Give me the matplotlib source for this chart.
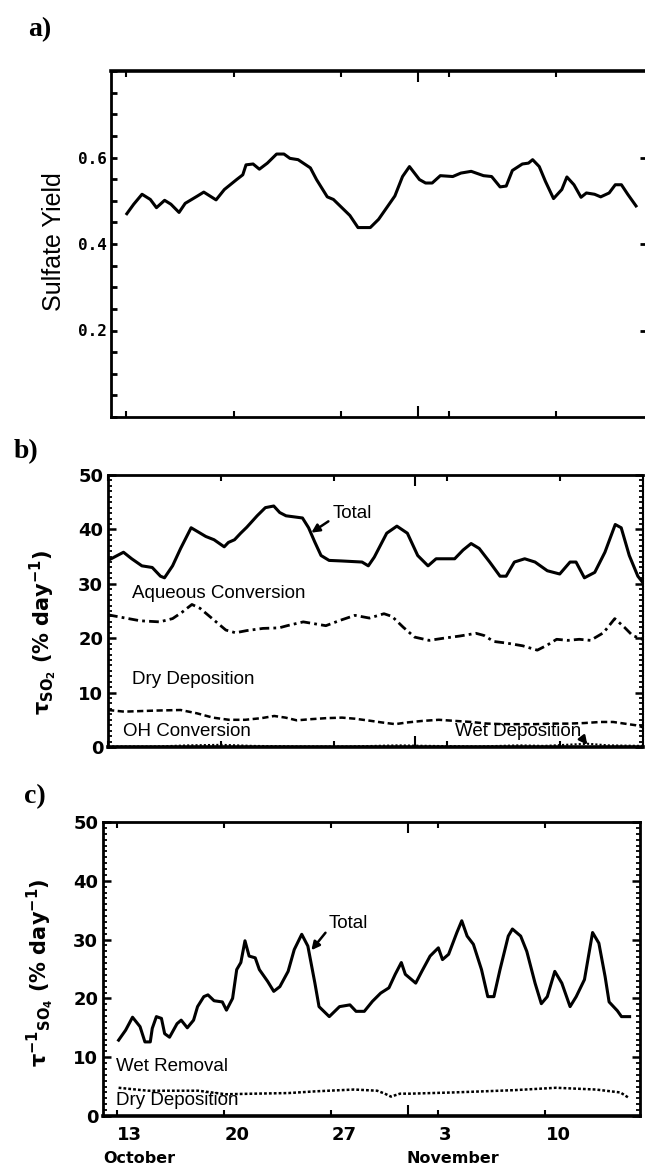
import numpy as np
import matplotlib
matplotlib.use("Agg")
import matplotlib.pyplot as plt
from matplotlib.ticker import MultipleLocator, FixedLocator

# ---- data (day of October; 32 = Nov 1) ----
days_a = [13.05, 13.5, 14.04, 14.58, 14.98, 15.51, 15.92, 16.45, 16.85, 17.65,
          18.06, 18.86, 19.4, 20.2, 20.6, 20.81, 21.27, 21.68, 22.2, 22.8,
          23.28, 23.67, 24.2, 25.0, 25.4, 26.1, 26.5, 27.57, 28.1, 28.9,
          29.44, 30.5, 31.0, 31.45, 32.1, 32.5, 32.93, 33.46, 34.27, 34.8,
          35.47, 36.27, 36.8, 37.35, 37.75, 38.15, 38.8, 39.2, 39.47, 39.9,
          40.3, 40.83, 41.37, 41.7, 42.16, 42.62, 42.97, 43.5, 43.9, 44.45,
          44.85, 45.25, 45.66, 46.2]
yield_a = [0.470, 0.492, 0.515, 0.503, 0.484, 0.501, 0.492, 0.473, 0.494, 0.511,
           0.520, 0.502, 0.526, 0.549, 0.560, 0.583, 0.585, 0.573, 0.587, 0.608,
           0.608, 0.598, 0.595, 0.576, 0.549, 0.509, 0.503, 0.466, 0.438, 0.438,
           0.457, 0.511, 0.556, 0.579, 0.549, 0.541, 0.541, 0.558, 0.556, 0.564,
           0.568, 0.558, 0.556, 0.532, 0.534, 0.570, 0.585, 0.587, 0.595, 0.579,
           0.545, 0.505, 0.526, 0.555, 0.537, 0.508, 0.518, 0.515, 0.509, 0.518,
           0.537, 0.537, 0.515, 0.488]

days_b_total = [13.0, 13.96, 14.47, 15.1, 15.74, 16.25, 16.5, 17.0, 17.5, 18.15,
                18.55, 19.06, 19.57, 20.2, 20.46, 20.84, 21.22, 21.6, 22.24, 22.75,
                23.27, 23.64, 24.03, 25.05, 25.43, 25.81, 26.2, 26.7, 27.47, 28.74,
                29.13, 29.5, 30.27, 30.9, 31.55, 32.19, 32.83, 33.33, 33.97, 34.48,
                35.0, 35.5, 36.0, 36.65, 37.29, 37.67, 38.18, 38.82, 39.46, 40.22,
                40.99, 41.63, 42.0, 42.52, 43.16, 43.79, 44.43, 44.8, 45.3, 45.83,
                46.2]
so2_total = [34.3, 35.8, 34.6, 33.3, 33.0, 31.4, 31.1, 33.3, 36.5, 40.3,
             39.6, 38.7, 38.1, 36.8, 37.6, 38.1, 39.3, 40.4, 42.5, 44.0,
             44.3, 43.1, 42.5, 42.1, 40.3, 37.7, 35.2, 34.3, 34.2, 34.0,
             33.3, 34.9, 39.3, 40.6, 39.3, 35.2, 33.3, 34.6, 34.6, 34.6,
             36.2, 37.4, 36.5, 34.0, 31.4, 31.4, 34.0, 34.6, 34.0, 32.4,
             31.8, 34.0, 34.0, 31.1, 32.1, 35.8, 40.9, 40.3, 35.2, 31.4,
             30.0]

days_b_aq = [13.0, 13.9, 15.0, 16.2, 17.0, 17.6, 18.2, 18.7, 19.5, 20.3,
             20.9, 21.6, 22.6, 23.6, 24.1, 25.1, 25.9, 26.5, 27.4, 28.3,
             29.2, 30.1, 30.6, 31.3, 32.0, 32.9, 33.8, 34.8, 35.8, 36.3,
             36.9, 37.7, 38.7, 39.6, 40.2, 40.8, 41.5, 42.2, 42.9, 43.7,
             44.4, 45.0, 45.5, 46.2]
so2_aqueous = [24.3, 23.8, 23.2, 23.0, 23.6, 24.8, 26.2, 25.5, 23.5, 21.5,
               21.0, 21.4, 21.8, 21.9, 22.3, 23.0, 22.6, 22.3, 23.3, 24.2,
               23.7, 24.5, 24.0, 22.0, 20.2, 19.6, 20.0, 20.4, 20.9, 20.5,
               19.4, 19.1, 18.6, 17.8, 18.7, 19.8, 19.6, 19.8, 19.6, 21.0,
               23.6, 22.0, 20.5, 19.7]

days_b_dry = [13.0, 14.0, 15.0, 16.0, 17.5, 18.5, 19.5, 20.5, 21.5, 22.5,
              23.3, 24.0, 24.7, 25.5, 26.5, 27.5, 28.3, 29.3, 30.0, 30.8,
              31.5, 32.5, 33.5, 34.5, 35.5, 36.5, 37.5, 38.5, 39.5, 40.5,
              41.5, 42.5, 43.5, 44.3, 45.0, 45.7, 46.2]
so2_dry = [6.8, 6.5, 6.6, 6.7, 6.8, 6.2, 5.4, 5.0, 5.0, 5.3,
           5.7, 5.4, 4.9, 5.1, 5.3, 5.4, 5.2, 4.8, 4.5, 4.2,
           4.5, 4.8, 5.0, 4.8, 4.6, 4.3, 4.2, 4.2, 4.2, 4.3,
           4.3, 4.4, 4.6, 4.6, 4.3, 4.0, 3.6]

days_b_wet = [13.0, 16.0, 18.0, 20.0, 22.0, 25.0, 28.0, 31.0, 33.0, 36.0,
              38.5, 40.0, 42.7, 44.0, 46.2]
so2_wet = [0.1, 0.1, 0.3, 0.4, 0.2, 0.1, 0.1, 0.3, 0.2, 0.1,
           0.3, 0.2, 0.6, 0.3, 0.2]

days_c_total = [13.1, 13.56, 14.01, 14.5, 14.82, 15.17, 15.3, 15.57, 15.9, 16.11,
                16.43, 16.92, 17.19, 17.59, 18.0, 18.26, 18.67, 18.94, 19.34, 19.88,
                20.15, 20.55, 20.82, 21.09, 21.36, 21.63, 22.03, 22.3, 22.84, 23.24,
                23.64, 24.18, 24.58, 25.07, 25.47, 25.93, 26.2, 26.87, 27.54, 28.22,
                28.62, 29.16, 29.69, 30.23, 30.77, 31.18, 31.58, 31.84, 32.52, 32.92,
                33.46, 34.0, 34.27, 34.67, 35.21, 35.53, 35.88, 36.29, 36.82, 37.23,
                37.63, 38.03, 38.57, 38.84, 39.38, 39.78, 40.32, 40.73, 41.12, 41.61,
                42.07, 42.61, 43.01, 43.55, 44.08, 44.49, 44.9, 45.16, 45.7, 45.97,
                46.5]
so4_total = [12.9, 14.6, 16.8, 15.2, 12.6, 12.6, 14.9, 16.9, 16.6, 14.0,
             13.4, 15.7, 16.3, 15.0, 16.3, 18.6, 20.3, 20.6, 19.6, 19.4,
             18.0, 20.0, 24.9, 26.1, 29.8, 27.2, 26.9, 24.9, 22.9, 21.2,
             22.0, 24.6, 28.3, 30.9, 28.9, 22.6, 18.6, 16.9, 18.6, 18.9,
             17.8, 17.8, 19.5, 20.9, 21.8, 24.1, 26.1, 24.1, 22.6, 24.6,
             27.2, 28.6, 26.6, 27.5, 31.2, 33.2, 30.6, 29.2, 24.9, 20.3,
             20.3, 24.9, 30.6, 31.8, 30.6, 28.0, 22.6, 19.1, 20.3, 24.6,
             22.6, 18.6, 20.3, 23.2, 31.2, 29.4, 23.7, 19.4, 17.9, 16.9,
             16.9]

days_c_dry = [13.1, 15.0, 18.3, 20.1, 22.0, 24.2, 26.0, 28.5, 30.0, 30.5,
              30.9, 31.5, 32.2, 34.9, 37.0, 39.0, 41.7, 44.3, 45.9, 46.5]
so4_dry = [4.8, 4.3, 4.3, 3.7, 3.8, 3.9, 4.2, 4.5, 4.3, 3.8,
           3.3, 3.8, 3.8, 4.0, 4.2, 4.4, 4.8, 4.5, 4.0, 3.0]

week_ticks = [13, 20, 27, 34, 41]
week_labels = ["13", "20", "27", "3", "10"]
month_tick = [32]

plt.rcParams['font.family'] = ['DejaVu Sans']
plt.rcParams['mathtext.fontset'] = 'dejavusans'
plt.rcParams['lines.scale_dashes'] = False

W, H = 645, 1165
fig = plt.figure(figsize=(W / 100, H / 100), dpi=100)


def rect(l, t, r, b):
    return [l / W, 1 - b / H, (r - l) / W, (b - t) / H]


def xsetup(ax, labels=False):
    ax.xaxis.set_major_locator(FixedLocator(week_ticks))
    ax.xaxis.set_minor_locator(FixedLocator(month_tick))
    ax.tick_params(axis='x', which='both', direction='in', top=True, bottom=True,
                   width=1.5)
    ax.tick_params(axis='x', which='major', length=4)
    ax.tick_params(axis='x', which='minor', length=8)
    if labels:
        ax.set_xticklabels(week_labels, ha='left', fontweight='bold', fontsize=13)
        ax.tick_params(axis='x', which='major', pad=7)
    else:
        ax.set_xticklabels([])


def rate_y(ax):
    ax.set_ylim(0, 50)
    ax.set_yticks(range(0, 51, 10))
    ax.yaxis.set_minor_locator(MultipleLocator(1))
    ax.tick_params(axis='y', which='both', direction='in', left=True, right=True,
                   labelsize=13, pad=3.5)
    ax.tick_params(axis='y', which='major', length=6, width=1.8)
    ax.tick_params(axis='y', which='minor', length=3, width=1.3)
    for lab in ax.get_yticklabels():
        lab.set_fontweight('bold')


txt = dict(family='Liberation Sans', fontsize=13.5, va='center', ha='left')
arrow = dict(arrowstyle='-|>', color='k', lw=1.8, mutation_scale=12,
             shrinkA=1, shrinkB=0)

# ---- a) ----
ax_a = fig.add_axes(rect(111, 71, 646, 417))
ax_a.plot(days_a, yield_a, color='k', lw=2.2)
ax_a.set_xlim(12.02, 46.85)
ax_a.set_ylim(0, 0.8)
xsetup(ax_a)
ax_a.set_yticks([0.2, 0.4, 0.6])
ax_a.set_yticklabels(['0.2', '0.4', '0.6'], family='DejaVu Sans Mono',
                     fontweight='bold', fontsize=11.5)
ax_a.yaxis.set_minor_locator(MultipleLocator(0.05))
ax_a.tick_params(axis='y', which='both', direction='in', left=True, right=True,
                 length=4, width=2, pad=3)
ax_a.tick_params(axis='y', which='minor', right=False)
ax_a.set_ylabel('Sulfate Yield', family='Liberation Sans', fontsize=18, va='center')
ax_a.yaxis.set_label_coords(-0.107, 0.506)
for s in ax_a.spines.values():
    s.set_linewidth(2)
ax_a.spines['top'].set_linewidth(2.6)

# ---- b) ----
ax_b = fig.add_axes(rect(108, 475, 643, 747))
ax_b.plot(days_b_total, so2_total, color='k', lw=2.2)
ax_b.plot(days_b_aq, so2_aqueous, color='k', lw=2.0, dashes=[7, 3, 2, 3])
ax_b.plot(days_b_dry, so2_dry, color='k', lw=1.8, dashes=[4.5, 2.5])
ax_b.plot(days_b_wet, so2_wet, color='k', lw=1.5, dashes=[1.5, 1.5])
ax_b.set_xlim(13.0, 46.15)
rate_y(ax_b)
xsetup(ax_b)
ax_b.set_ylabel('τ$_{\\mathbf{SO}_{\\mathbf{2}}}$ (% day$^{\\mathbf{-1}}$)',
                fontweight='bold', fontsize=15, va='center')
ax_b.yaxis.set_label_coords(-0.12, 0.423)
for s in ax_b.spines.values():
    s.set_linewidth(2)
ax_b.spines['bottom'].set_linewidth(2.6)
ax_b.spines['right'].set_linestyle((0, (1, 1)))
ax_b.spines['right'].set_linewidth(1.5)

ax_b.annotate('Total', xy=(25.6, 39.4), xytext=(26.9, 42.9),
              arrowprops=dict(arrow, relpos=(0, 0.2)), **txt)
ax_b.text(14.5, 28.2, 'Aqueous Conversion', **txt)
ax_b.text(14.5, 12.5, 'Dry Deposition', **txt)
ax_b.text(13.9, 2.9, 'OH Conversion', **txt)
ax_b.annotate('Wet Deposition', xy=(42.7, 0.4), xytext=(34.5, 2.8),
              arrowprops=dict(arrow, relpos=(1, 0.2)), **txt)

# ---- c) ----
ax_c = fig.add_axes(rect(103, 822, 640, 1116))
ax_c.plot(days_c_total, so4_total, color='k', lw=2.2)
ax_c.plot(days_c_dry, so4_dry, color='k', lw=1.8, dashes=[2, 1.5])
ax_c.set_xlim(12.08, 47.18)
rate_y(ax_c)
xsetup(ax_c, labels=True)
ax_c.set_ylabel('τ$^{\\mathbf{-1}}$$_{\\mathbf{SO}_{\\mathbf{4}}}$ (% day$^{\\mathbf{-1}}$)',
                fontweight='bold', fontsize=15, va='center')
ax_c.yaxis.set_label_coords(-0.117, 0.486)
for s in ax_c.spines.values():
    s.set_linewidth(2)
ax_c.spines['bottom'].set_linewidth(2.6)

ax_c.annotate('Total', xy=(25.7, 28.2), xytext=(26.86, 32.8),
              arrowprops=dict(arrow, relpos=(0, 0.2)), **txt)
ax_c.text(12.9, 8.5, 'Wet Removal', **txt)
ax_c.text(12.9, 2.6, 'Dry Deposition', **txt)

xt = ax_c.get_xaxis_transform()
ax_c.text(12.08, -0.118, 'October', transform=xt, ha='left', va='top',
          fontweight='bold', fontsize=11.5)
ax_c.text(31.95, -0.118, 'November', transform=xt, ha='left', va='top',
          fontweight='bold', fontsize=11.5)

# panel letters
panel = dict(family='Liberation Serif', fontweight='bold', fontsize=20,
             ha='center', va='center')
fig.text(40 / W, 1 - 30 / H, 'a)', **panel)
fig.text(26 / W, 1 - 452 / H, 'b)', **panel)
fig.text(35 / W, 1 - 797 / H, 'c)', **panel)

fig.savefig('out.png', dpi=100)
